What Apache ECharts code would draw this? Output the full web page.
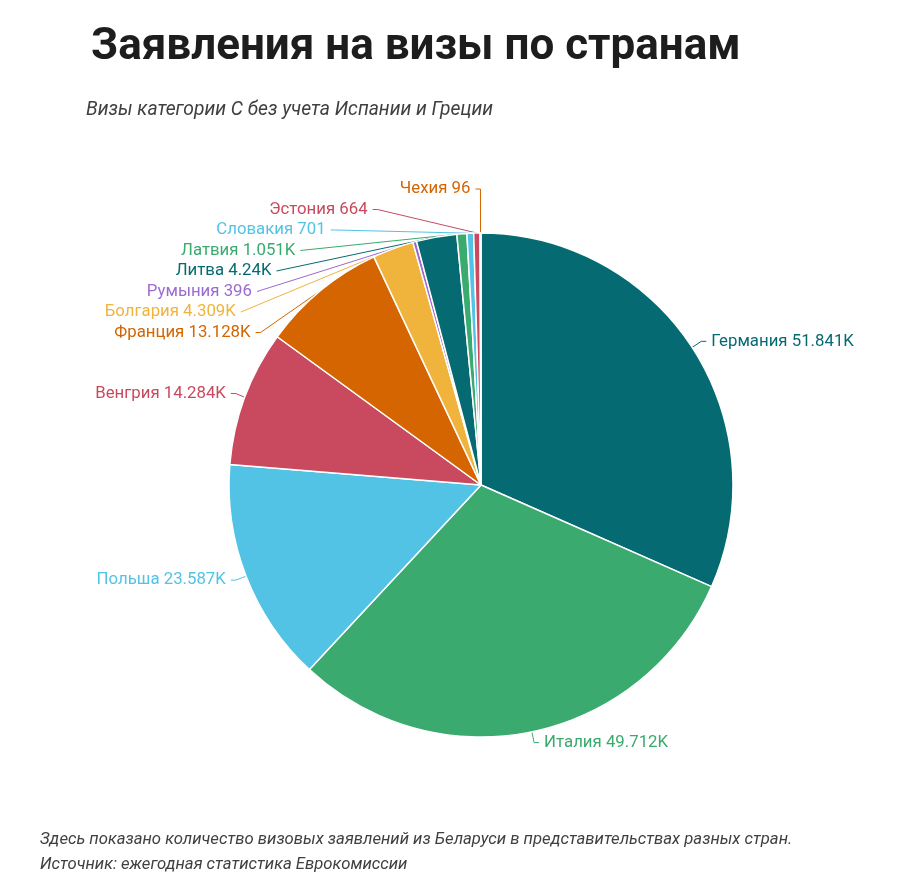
<!DOCTYPE html>
<html>
<head>
<meta charset="utf-8">
<script src="https://cdn.jsdelivr.net/npm/echarts@6/dist/echarts.min.js"></script>
<style>
html,body{margin:0;padding:0;background:#fff;}
#c{width:899px;height:888px;}
</style>
</head>
<body>
<div id="c"></div>
<script>
const countries = ["Германия","Италия","Польша","Венгрия","Франция","Болгария","Румыния","Литва","Латвия","Словакия","Эстония","Чехия"];
const applications = [51841,49712,23587,14284,13128,4309,396,4240,1051,701,664,96];
const colors = ["#066a72","#3aaa6e","#52c3e5","#c94a5e","#d46500","#f0b43c","#9c6ad0","#066a72","#3aaa6e","#52c3e5","#c94a5e","#d46500"];
const titleText = "Заявления на визы по странам";
const subtitleText = "Визы категории С без учета Испании и Греции";
const noteText = "Здесь показано количество визовых заявлений из Беларуси в представительствах разных стран.";
const sourceText = "Источник: ежегодная статистика Еврокомиссии";

function fmt(v){
  if (v >= 1000) return (v/1000).toString() + "K";
  return String(v);
}

const chart = echarts.init(document.getElementById('c'));
chart.setOption({
  backgroundColor:'#fff',
  animation:false,
  title:[
    {text:titleText,left:86,top:21,textStyle:{fontFamily:'Roboto',fontWeight:'bold',fontSize:44,color:'#1d1d1d'}},
    {text:subtitleText,left:81,top:96,textStyle:{fontFamily:'Roboto',fontStyle:'italic',fontWeight:'normal',fontSize:19.3,color:'#404040'}},
    {text:noteText,left:35,top:826,textStyle:{fontFamily:'Roboto',fontStyle:'italic',fontWeight:'normal',fontSize:16.7,color:'#404040'}},
    {text:sourceText,left:35,top:851,textStyle:{fontFamily:'Roboto',fontStyle:'italic',fontWeight:'normal',fontSize:16.7,color:'#404040'}}
  ],
  series:[{
    type:'pie',
    center:[481,485],
    radius:[0,252],
    startAngle:90,
    clockwise:true,
    avoidLabelOverlap:true,
    data:countries.map((n,i)=>({
      name:n,value:applications[i],
      itemStyle:{color:colors[i]},
      label:{color:colors[i]},
      labelLine:Object.assign({lineStyle:{color:colors[i]}}, i>=5 ? {length:44} : {})
    })),
    itemStyle:{borderColor:'#fff',borderWidth:1.5},
    label:{
      show:true,
      position:'outside',
      fontFamily:'Roboto',
      fontSize:16.8,
      lineHeight:18.5,
      formatter:p=>p.name+' '+fmt(p.value)
    },
    labelLine:{show:true,length:11,length2:5,lineStyle:{width:1}},
    emphasis:{disabled:true}
  }]
});
</script>
</body>
</html>
